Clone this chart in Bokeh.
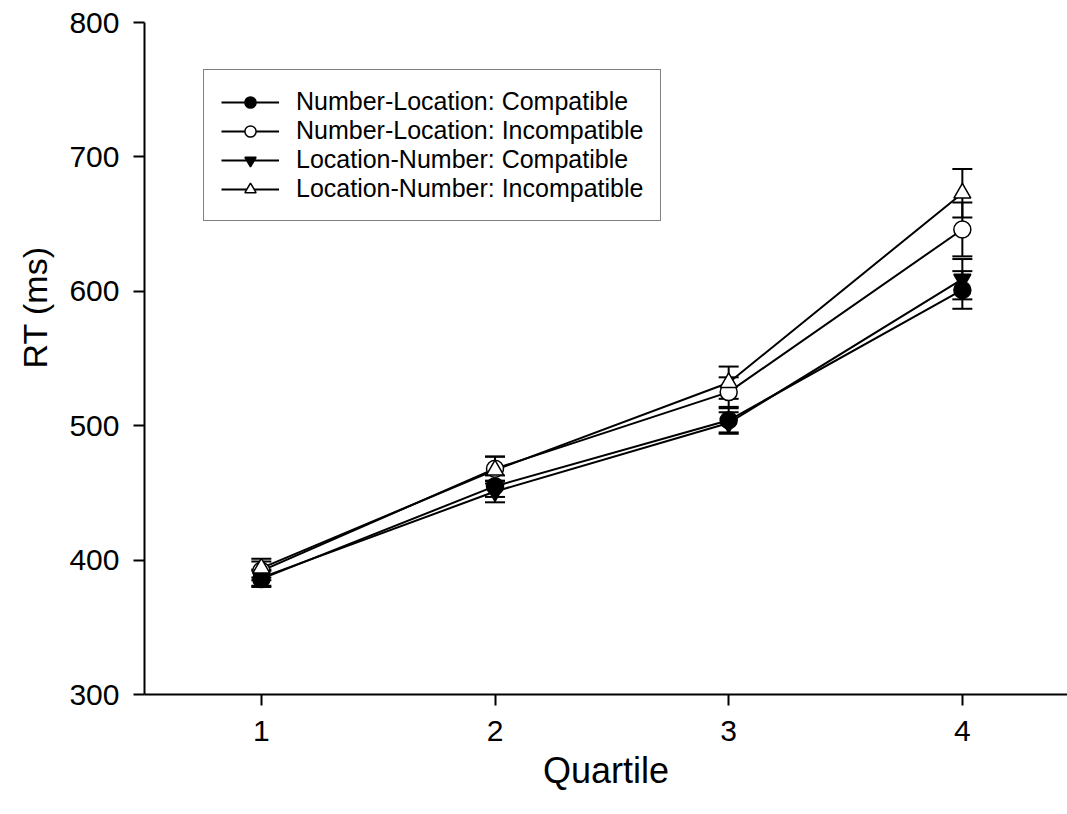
from bokeh.plotting import figure
from bokeh.models import ColumnDataSource, Whisker, TeeHead, Legend, LegendItem, FixedTicker, Range1d, Title
from bokeh.embed import file_html
from bokeh.resources import INLINE

quartiles = [1, 2, 3, 4]
nl_compat = [386, 455, 504, 601]
nl_compat_err = [6, 8, 9, 14]
nl_incompat = [392, 468, 525, 646]
nl_incompat_err = [7, 9, 11, 20]
ln_compat = [387, 451, 502, 609]
ln_compat_err = [6, 8, 8, 15]
ln_incompat = [394, 467, 532, 673]
ln_incompat_err = [7, 10, 12, 18]

labels = ["Number-Location: Compatible", "Number-Location: Incompatible",
          "Location-Number: Compatible", "Location-Number: Incompatible"]
x_title = "Quartile"
y_title = "RT (ms)"

FONT = "Liberation Sans"

p = figure(width=1067, height=814, output_backend="svg", toolbar_location=None,
           x_range=Range1d(0.5, 4.45), y_range=Range1d(300, 800),
           min_border_left=144, min_border_right=0, min_border_top=22, min_border_bottom=120)
p.outline_line_color = None
p.grid.visible = False
p.background_fill_color = "white"
p.border_fill_color = "white"

for ax in (p.xaxis[0], p.yaxis[0]):
    ax.axis_line_width = 2
    ax.major_tick_line_width = 2
    ax.major_tick_out = 11
    ax.major_tick_in = 0
    ax.minor_tick_out = 0
    ax.minor_tick_in = 0
    ax.major_label_text_font = FONT
    ax.major_label_text_font_size = "30px"
    ax.major_label_text_color = "black"
    ax.axis_label_text_font = FONT
    ax.axis_label_text_font_size = "36px"
    ax.axis_label_text_font_style = "normal"
    ax.axis_label_text_color = "black"

p.xaxis.ticker = FixedTicker(ticks=quartiles)
p.yaxis.ticker = FixedTicker(ticks=[300, 400, 500, 600, 700, 800])
p.xaxis.axis_label = x_title
p.xaxis.major_label_standoff = 15
p.yaxis.major_label_standoff = 14
p.xaxis.axis_label_standoff = 6

# y-axis title: a left-side title, anchored from the bottom of the frame so it sits
# a little above the axis centre, as in the reference
ytitle = Title(text=y_title, align="left", offset=326, text_font=FONT,
               text_font_size="34px", text_font_style="normal", text_color="black",
               standoff=26)
p.add_layout(ytitle, "left")

series = [
    (nl_compat, nl_compat_err, "circle", "black"),
    (nl_incompat, nl_incompat_err, "circle", "white"),
    (ln_compat, ln_compat_err, "inverted_triangle", "black"),
    (ln_incompat, ln_incompat_err, "triangle", "white"),
]

items = []
line_rs = []
for (vals, errs, marker, fill), lab in zip(series, labels):
    src = ColumnDataSource(dict(x=quartiles, y=vals,
                                upper=[v + e for v, e in zip(vals, errs)],
                                lower=[v - e for v, e in zip(vals, errs)]))
    lr = p.line("x", "y", source=src, line_color="black", line_width=2)
    w = Whisker(source=src, base="x", upper="upper", lower="lower",
                line_color="black", line_width=2,
                upper_head=TeeHead(size=20, line_width=2, line_color="black"),
                lower_head=TeeHead(size=20, line_width=2, line_color="black"))
    p.add_layout(w)
    line_rs.append((lr, src, marker, fill, lab))

for lr, src, marker, fill, lab in line_rs:
    sr = p.scatter("x", "y", source=src, marker=marker, size=17,
                   fill_color=fill, line_color="black", line_width=1.5)
    items.append(LegendItem(label=lab, renderers=[lr, sr]))

legend = Legend(items=items, location=(59, 473))
legend.label_text_font = FONT
legend.label_text_font_size = "25px"
legend.label_text_color = "black"
legend.glyph_width = 58
legend.glyph_height = 28
legend.label_height = 28
legend.spacing = 0
legend.padding = 17
legend.margin = 0
legend.label_standoff = 17
legend.border_line_color = "black"
legend.border_line_width = 1.5
legend.background_fill_color = "white"
legend.background_fill_alpha = 1
p.add_layout(legend, "center")

open("out.html", "w").write(file_html(p, INLINE))
